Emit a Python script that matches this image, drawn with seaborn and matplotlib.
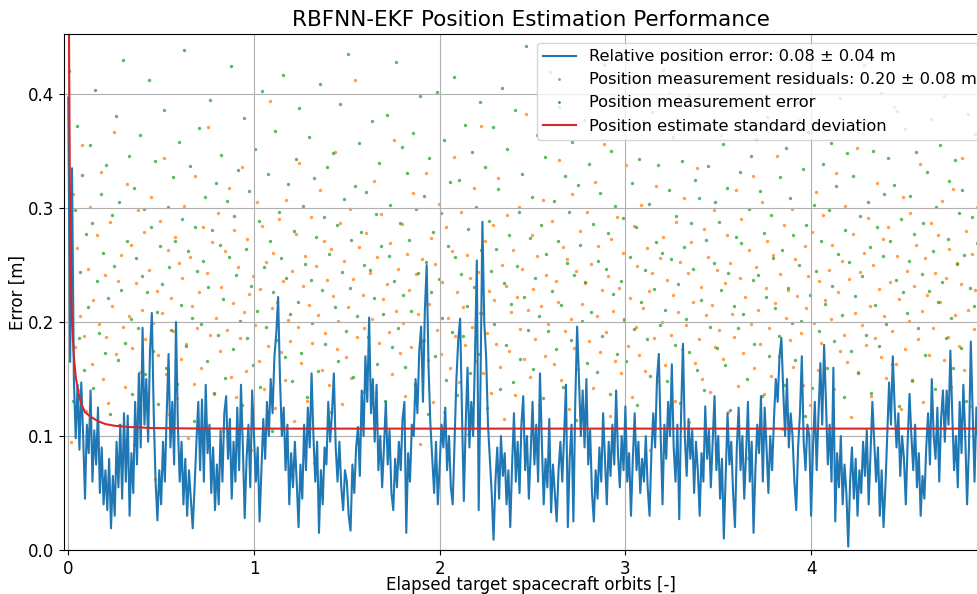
import numpy as np
import matplotlib
matplotlib.use("Agg")
import matplotlib.pyplot as plt
from matplotlib.lines import Line2D
import seaborn as sns

# Sampling interval of the filter output, in target orbits
orbit_step = 0.01

# Relative position error of the RBFNN-EKF estimate [mm], one value per step
position_error_mm = [
    397, 165, 335, 150, 98, 145, 88, 147, 100, 45,
    110, 85, 140, 60, 105, 75, 125, 50, 90, 40,
    70, 35, 80, 19, 65, 30, 95, 55, 110, 45,
    120, 60, 118, 30, 85, 50, 130, 75, 155, 90,
    195, 110, 150, 95, 175, 208, 120, 60, 26, 70,
    40, 95, 60, 120, 172, 90, 130, 75, 200, 110,
    60, 95, 40, 80, 30, 70, 45, 19, 55, 95,
    130, 70, 132, 60, 145, 85, 110, 50, 90, 35,
    75, 40, 105, 60, 120, 135, 80, 115, 45, 95,
    60, 125, 70, 145, 90, 28, 80, 110, 55, 140,
    100, 60, 90, 25, 70, 115, 80, 130, 100, 150,
    120, 170, 190, 222, 150, 100, 125, 70, 110, 40,
    85, 55, 95, 60, 20, 75, 45, 110, 70, 125,
    90, 155, 100, 60, 95, 15, 70, 40, 90, 75,
    130, 95, 120, 155, 90, 60, 95, 55, 35, 70,
    60, 30, 17, 75, 50, 90, 108, 65, 140, 100,
    170, 130, 204, 120, 150, 95, 145, 70, 100, 55,
    90, 130, 75, 105, 50, 35, 80, 55, 95, 70,
    115, 130, 15, 85, 60, 110, 100, 150, 120, 175,
    196, 130, 210, 250, 160, 110, 80, 50, 95, 40,
    75, 110, 90, 125, 70, 100, 55, 40, 95, 150,
    185, 203, 120, 43, 110, 160, 90, 130, 100, 170,
    254, 35, 150, 288, 200, 170, 110, 80, 50, 9,
    60, 90, 45, 100, 65, 85, 40, 70, 20, 75,
    120, 60, 95, 50, 110, 135, 70, 100, 45, 85,
    130, 75, 110, 60, 155, 95, 40, 80, 55, 115,
    33, 75, 50, 25, 70, 95, 60, 100, 145, 20,
    80, 110, 25, 130, 196, 150, 100, 140, 90, 150,
    75, 105, 50, 25, 70, 45, 90, 60, 120, 80,
    40, 95, 65, 110, 75, 140, 85, 55, 100, 70,
    126, 60, 85, 30, 80, 120, 70, 95, 50, 80,
    60, 100, 55, 30, 85, 120, 90, 150, 172, 100,
    40, 110, 80, 130, 100, 163, 90, 60, 110, 27,
    120, 181, 100, 65, 115, 80, 105, 50, 95, 70,
    30, 85, 60, 126, 80, 105, 55, 95, 135, 70,
    100, 45, 80, 10, 65, 120, 75, 95, 50, 20,
    90, 125, 70, 100, 45, 85, 130, 60, 95, 15,
    70, 110, 85, 135, 60, 125, 90, 50, 100, 70,
    115, 150, 130, 170, 186, 140, 100, 150, 90, 120,
    100, 60, 35, 90, 120, 170, 95, 70, 110, 100,
    30, 90, 130, 70, 120, 164, 110, 180, 130, 75,
    110, 60, 160, 25, 85, 55, 100, 40, 75, 50,
    3, 60, 90, 45, 80, 30, 70, 50, 95, 65,
    105, 40, 85, 130, 95, 60, 90, 30, 70, 20,
    55, 100, 147, 110, 170, 125, 90, 120, 65, 100,
    80, 40, 95, 137, 100, 70, 110, 55, 85, 30,
    65, 45, 90, 120, 75, 150, 100, 80, 125, 60,
    115, 140, 95, 140, 110, 175, 120, 70, 100, 55,
    130, 85, 145, 100, 40, 90, 183, 120, 60, 125,
    95,
]

# Position measurement residuals [mm], one per measurement epoch
residuals_mm = [
    230, 95, 312, 178, 265, 140, 205, 355, 188, 122,
    247, 301, 163, 219, 84, 276, 198, 332, 150, 241,
    187, 129, 288, 214, 367, 172, 236, 110, 259, 196,
    143, 321, 205, 268, 177, 92, 234, 298, 156, 211,
    279, 185, 138, 246, 310, 199, 62, 227, 171, 289,
    208, 344, 154, 263, 119, 221, 192, 275, 133, 252,
    168, 239, 302, 181, 98, 257, 214, 146, 328, 195,
    226, 160, 283, 117, 243, 371, 189, 270, 137, 204,
    296, 175, 231, 104, 262, 193, 318, 152, 217, 281,
    134, 248, 186, 336, 209, 157, 273, 225, 88, 240,
    197, 305, 166, 229, 284, 141, 253, 179, 394, 212,
    261, 125, 218, 290, 174, 236, 149, 307, 202, 183,
    245, 113, 277, 196, 340, 164, 232, 258, 131, 215,
    292, 182, 76, 249, 206, 316, 158, 271, 190, 237,
    145, 264, 223, 349, 176, 201, 287, 128, 254, 169,
    213, 299, 151, 238, 412, 187, 266, 107, 224, 195,
    278, 162, 243, 203, 324, 139, 257, 182, 295, 220,
    116, 233, 191, 269, 154, 360, 210, 247, 173, 286,
    199, 135, 260, 228, 178, 313, 146, 242, 207, 93,
    255, 184, 331, 167, 216, 274, 130, 251, 193, 304,
    172, 235, 121, 283, 204, 160, 262, 345, 188, 226,
    147, 297, 213, 180, 259, 102, 239, 196, 318, 166,
    244, 208, 372, 155, 271, 190, 227, 138, 285, 219,
    181, 326, 161, 250, 115, 232, 294, 175, 209, 263,
    136, 222, 301, 194, 247, 168, 383, 211, 152, 276,
    229, 185, 258, 127, 214, 307, 170, 241, 198, 69,
    289, 163, 236, 218, 342, 149, 266, 192, 255, 124,
    203, 312, 177, 245, 159, 280, 216, 101, 234, 297,
    183, 251, 142, 323, 205, 267, 174, 228, 356, 191,
    240, 118, 273, 210, 166, 292, 230, 155, 261, 201,
    338, 179, 221, 134, 284, 196, 249, 171, 303, 212,
    157, 265, 227, 88, 243, 186, 319, 148, 256, 200,
    275, 162, 237, 401, 189, 224, 131, 288, 209, 253,
    176, 309, 197, 243, 112, 270, 218, 164, 335, 185,
    231, 150, 282, 206, 257, 139, 215, 298, 178, 246,
    193, 364, 168, 234, 276, 121, 252, 207, 187, 316,
    144, 239, 290, 173, 222, 81, 263, 198, 328, 160,
    248, 211, 181, 305, 137, 230, 271, 195, 153, 259,
    217, 346, 170, 242, 106, 285, 204, 228, 184, 299,
    161, 255, 223, 377, 190, 145, 267, 212, 240, 127,
    279, 199, 314, 158, 236, 182, 294, 219, 96, 246,
    203, 268, 141, 331, 226, 175, 254, 189, 302, 165,
    238, 117, 277, 208, 353, 156, 244, 197, 261, 180,
    291, 214, 135, 250, 186, 322, 229, 169, 273, 205,
    151, 283, 235, 192, 389, 163, 258, 220, 124, 310,
    176, 245, 201, 296, 148, 232, 268, 185, 339, 210,
    130, 256, 224, 171, 287, 195, 243, 99, 276, 218,
    306, 167, 239, 187, 264, 143, 317, 206, 252, 179,
    233, 344, 158, 280, 211, 126, 260, 194, 228, 301,
]

# Position measurement error [mm], same epochs as the residuals
meas_error_mm = [
    420, 265, 131, 298, 372, 186, 244, 329, 158, 277,
    213, 355, 287, 142, 404, 236, 190, 312, 261, 173,
    338, 221, 119, 294, 249, 381, 167, 305, 228, 430,
    182, 271, 346, 203, 137, 318, 256, 195, 364, 240,
    299, 154, 226, 412, 283, 175, 341, 209, 128, 267,
    233, 386, 160, 301, 248, 193, 327, 271, 146, 358,
    215, 290, 439, 179, 262, 337, 204, 113, 283, 245,
    370, 198, 254, 310, 166, 231, 395, 281, 138, 322,
    189, 268, 347, 220, 151, 306, 257, 425, 176, 293,
    241, 333, 201, 127, 379, 264, 186, 315, 232, 162,
    352, 210, 289, 143, 403, 248, 196, 330, 271, 104,
    226, 368, 184, 297, 256, 417, 169, 239, 321, 207,
    148, 280, 343, 218, 388, 173, 302, 251, 134, 362,
    237, 199, 326, 275, 157, 409, 228, 292, 181, 336,
    260, 121, 348, 213, 285, 166, 391, 244, 308, 192,
    435, 230, 272, 152, 319, 205, 357, 279, 139, 250,
    314, 187, 246, 376, 221, 295, 163, 340, 267, 207,
    131, 382, 258, 303, 178, 236, 428, 195, 287, 354,
    224, 161, 331, 272, 210, 366, 145, 299, 243, 398,
    183, 311, 253, 119, 344, 226, 279, 170, 402, 238,
    296, 204, 360, 149, 267, 323, 191, 415, 257, 136,
    325, 242, 188, 373, 214, 282, 155, 349, 231, 301,
    172, 393, 263, 208, 336, 125, 289, 245, 371, 198,
    264, 317, 141, 405, 234, 180, 352, 276, 216, 147,
    386, 249, 297, 168, 330, 222, 442, 193, 274, 310,
    159, 239, 364, 205, 285, 133, 345, 260, 192, 419,
    227, 306, 176, 271, 389, 215, 143, 328, 252, 297,
    184, 358, 241, 114, 320, 268, 201, 377, 235, 164,
    339, 209, 286, 396, 156, 254, 313, 188, 426, 247,
    278, 137, 350, 225, 302, 172, 369, 236, 291, 203,
    166, 410, 257, 322, 194, 283, 127, 343, 218, 376,
    246, 185, 304, 153, 384, 229, 270, 338, 197, 261,
    421, 211, 148, 316, 255, 362, 180, 293, 233, 129,
    341, 266, 203, 399, 174, 287, 247, 325, 158, 309,
    219, 371, 140, 272, 337, 196, 432, 252, 305, 177,
    288, 228, 356, 162, 318, 243, 123, 389, 214, 275,
    195, 332, 269, 207, 408, 150, 299, 346, 237, 181,
    361, 241, 315, 135, 278, 222, 380, 170, 294, 256,
    212, 437, 188, 327, 263, 145, 353, 230, 309, 199,
    276, 167, 392, 250, 201, 334, 118, 285, 367, 224,
    142, 303, 245, 414, 192, 271, 339, 216, 160, 298,
    357, 232, 183, 319, 260, 397, 206, 134, 281, 348,
    253, 175, 328, 223, 375, 155, 293, 240, 426, 189,
    305, 266, 138, 350, 215, 283, 179, 401, 258, 312,
    198, 344, 271, 163, 320, 237, 385, 126, 290, 226,
    369, 208, 254, 311, 149, 277, 349, 195, 413, 242,
    287, 171, 332, 227, 378, 262, 141, 301, 218, 355,
    235, 398, 186, 273, 324, 204, 160, 342, 251, 296,
    177, 316, 259, 131, 383, 230, 292, 214, 365, 269,
]

# Filter position standard deviation [mm] at selected epochs [orbits]
std_orbits = [0.0, 0.004, 0.008, 0.012, 0.016, 0.02, 0.03, 0.04, 0.052,
              0.07, 0.09, 0.12, 0.16, 0.2, 0.25, 0.32, 0.45, 0.7, 1.0, 5.0]
std_mm = [900, 450, 330, 260, 225, 200, 170, 152, 140,
          128, 121, 117, 113, 110.5, 109, 108, 107, 106.6, 106.5, 106.5]

labels = [
    "Relative position error: 0.08 \u00b1 0.04 m",
    "Position measurement residuals: 0.20 \u00b1 0.08 m",
    "Position measurement error",
    "Position estimate standard deviation",
]

t_filter = np.arange(len(position_error_mm)) * orbit_step
t_meas = np.arange(len(residuals_mm)) * orbit_step + orbit_step / 2

err_m = np.asarray(position_error_mm) / 1000.0
res_m = np.asarray(residuals_mm) / 1000.0
meas_m = np.asarray(meas_error_mm) / 1000.0
std_m = np.asarray(std_mm) / 1000.0

plt.rcParams["font.family"] = ["DejaVu Sans"]
fig = plt.figure(figsize=(9.78, 5.94), dpi=100)
ax = fig.add_axes([64.3 / 978, 44 / 594, 932.5 / 978, 515.7 / 594])

sns.lineplot(x=t_filter, y=err_m, ax=ax, color="C0", linewidth=1.5,
             sort=False, estimator=None)
sns.scatterplot(x=t_meas, y=res_m, ax=ax, color="C1", s=6, linewidth=0,
                alpha=0.75)
sns.scatterplot(x=t_meas, y=meas_m, ax=ax, color="C2", s=6, linewidth=0,
                alpha=0.75)
sns.lineplot(x=std_orbits, y=std_m, ax=ax, color="C3", linewidth=1.5,
             sort=False, estimator=None)

ax.set_xlim(-0.0215, 5.0)
ax.set_ylim(0, 0.4525)
ax.set_xticks([0, 1, 2, 3, 4])
ax.set_yticks([0.0, 0.1, 0.2, 0.3, 0.4])
ax.grid(True, color="#b0b0b0", linewidth=0.8)
ax.tick_params(labelsize=12)
ax.set_xlabel("Elapsed target spacecraft orbits [-]", fontsize=12, labelpad=-1)
ax.set_ylabel("Error [m]", fontsize=12, labelpad=1)
ax.set_title("RBFNN-EKF Position Estimation Performance", fontsize=15.5)

handles = [
    Line2D([], [], color="C0", linewidth=1.5),
    Line2D([], [], color="C1", marker=".", linestyle="", markersize=2),
    Line2D([], [], color="C2", marker=".", linestyle="", markersize=2),
    Line2D([], [], color="C3", linewidth=1.5),
]
ax.legend(handles, labels, loc="upper left",
          bbox_to_anchor=(536.7 / 978, 1 - 42.7 / 594),
          bbox_transform=fig.transFigure, borderaxespad=0, fontsize=11.7)

fig.savefig("out.png", dpi=100)
